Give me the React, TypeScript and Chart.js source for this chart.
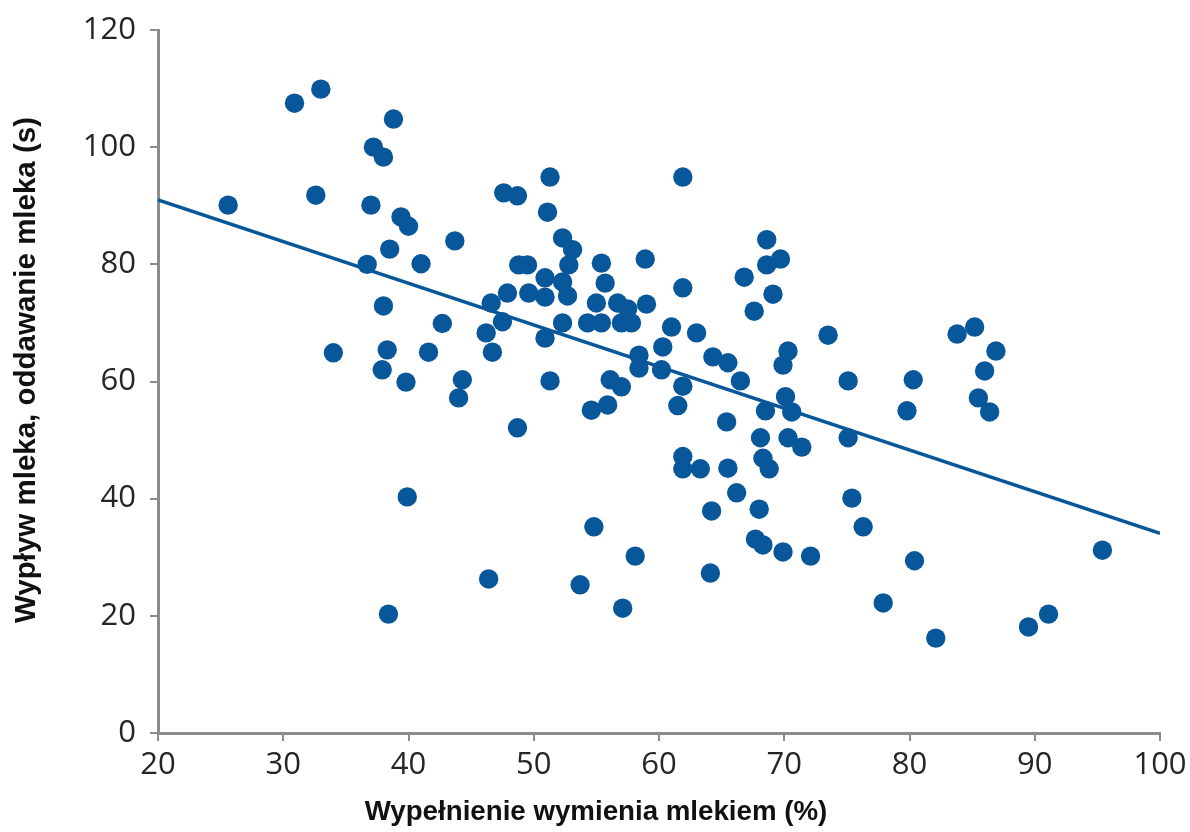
import { useEffect, useRef } from "react";
import { Chart, registerables } from "chart.js";

Chart.register(...registerables);

// Udder fill level (%) for each milking
const fillPct = [
  25.6, 30.9, 33.0, 32.6, 34.0, 37.2, 38.0, 38.8, 37.0, 36.7,
  39.4, 40.0, 38.5, 38.0, 38.3, 37.9, 39.8, 39.9, 38.4, 41.0,
  43.7, 42.7, 41.6, 44.3, 44.0,
  47.6, 48.7, 51.3, 51.1, 52.3, 53.1, 52.8, 48.8, 49.5, 55.4,
  58.9, 46.6, 47.9, 49.6, 50.9, 50.9, 52.3, 52.7, 55.7, 55.0,
  56.7, 57.5, 59.0, 47.5, 46.2, 46.7, 50.9, 52.3, 54.3, 55.4,
  57.0, 57.8, 58.4, 58.4, 51.3, 56.1, 57.0, 55.9, 54.6, 48.7,
  54.8, 58.1, 46.4, 53.7, 57.1,
  61.9, 61.9, 61.0, 63.0, 60.3, 60.2, 61.9, 61.5, 68.6, 68.6,
  69.7, 66.8, 69.1, 67.6, 64.3, 65.5, 66.5, 70.3, 69.9, 73.5,
  75.1, 65.4, 68.5, 70.1, 70.6, 68.1, 70.3, 71.4, 75.1, 61.9,
  61.9, 63.3, 65.5, 68.3, 68.8, 66.2, 64.2, 68.0, 67.7, 68.3,
  69.9, 72.1, 75.4, 76.3, 64.1, 77.9,
  80.4, 83.8, 85.2, 86.9, 86.0, 80.3, 79.8, 85.5, 86.4, 95.4,
  82.1, 89.5, 91.1,
];

// Milk flow / let-down time (s) for each milking
const flowTime = [
  90.1, 107.5, 109.9, 91.8, 64.9, 100.0, 98.3, 104.8, 90.1, 80.0,
  88.1, 86.5, 82.6, 72.9, 65.4, 62.0, 59.9, 40.3, 20.3, 80.1,
  84.0, 69.9, 65.0, 60.3, 57.2,
  92.2, 91.7, 94.9, 88.9, 84.5, 82.5, 79.9, 79.9, 79.9, 80.2,
  80.9, 73.4, 75.1, 75.1, 77.7, 74.4, 77.0, 74.6, 76.8, 73.4,
  73.4, 72.4, 73.2, 70.2, 68.3, 65.0, 67.4, 70.0, 70.0, 70.0,
  70.0, 70.0, 64.5, 62.3, 60.1, 60.3, 59.1, 56.0, 55.1, 52.1,
  35.2, 30.2, 26.3, 25.3, 21.3,
  94.9, 76.0, 69.3, 68.3, 65.9, 62.0, 59.2, 55.9, 84.2, 79.9,
  80.9, 77.8, 74.9, 72.0, 64.2, 63.2, 60.1, 65.2, 62.8, 67.9,
  60.1, 53.1, 55.0, 57.4, 54.8, 50.4, 50.4, 48.8, 50.4, 47.2,
  45.1, 45.1, 45.2, 46.9, 45.1, 41.0, 37.9, 38.2, 33.1, 32.1,
  30.9, 30.2, 40.1, 35.2, 27.3, 22.2,
  29.4, 68.1, 69.3, 65.2, 61.8, 60.3, 55.0, 57.2, 54.8, 31.2,
  16.2, 18.1, 20.3,
];

// Linear trend line end points
const trendX = [20, 100];
const trendY = [91.0, 34.1];

const xTitle = "Wypełnienie wymienia mlekiem (%)";
const yTitle = "Wypływ mleka, oddawanie mleka (s)";

const BLUE = "#08579a";
const AXIS = "#8c8c8c";
const TICK_FONT = { family: "'Open Sans', sans-serif", size: 31 };

const axisTitles = {
  id: "axisTitles",
  afterDraw(chart: any) {
    const { ctx, chartArea } = chart;
    ctx.save();
    ctx.fillStyle = "#111";
    ctx.textAlign = "center";
    ctx.textBaseline = "middle";
    ctx.font = "bold 27.7px 'Liberation Sans', Arial, sans-serif";
    ctx.fillText(xTitle, chartArea.left + 438, chartArea.bottom + 79);
    ctx.font = "bold 29.5px 'Liberation Sans', Arial, sans-serif";
    ctx.translate(27, chartArea.top + 340);
    ctx.rotate(-Math.PI / 2);
    ctx.fillText(yTitle, 0, 0);
    ctx.restore();
  },
};

// Fixed axis box sizes so the plot area sits at a known place
const fitX = (s: any) => {
  s.height = 99;
  s.paddingLeft = 0;
  s.paddingRight = 0;
};
const fitY = (s: any) => {
  s.width = 158;
  s.paddingTop = 0;
  s.paddingBottom = 0;
};

export default function App() {
  const canvasRef = useRef<HTMLCanvasElement>(null);

  useEffect(() => {
    const points = fillPct.map((x, i) => ({ x, y: flowTime[i] }));
    const trend = trendX.map((x, i) => ({ x, y: trendY[i] }));

    const chart = new Chart(canvasRef.current!, {
      type: "scatter",
      data: {
        datasets: [
          {
            data: points,
            pointRadius: 9.7,
            pointBackgroundColor: BLUE,
            pointBorderWidth: 0,
            order: 0,
          },
          {
            data: trend,
            showLine: true,
            borderColor: BLUE,
            borderWidth: 3.5,
            pointRadius: 0,
            order: 1,
          } as any,
        ],
      },
      options: {
        animation: false,
        responsive: true,
        maintainAspectRatio: false,
        layout: { padding: { top: 30, right: 30, left: 0, bottom: 0 } },
        plugins: {
          legend: { display: false },
          tooltip: { enabled: false },
        },
        scales: {
          x: {
            type: "linear",
            min: 20,
            max: 100,
            afterFit: fitX,
            ticks: { stepSize: 10, font: TICK_FONT, color: "#262626", padding: 6 },
            grid: {
              drawOnChartArea: false,
              drawTicks: true,
              tickLength: 8,
              color: AXIS,
              lineWidth: 2,
            },
            border: { display: true, color: AXIS, width: 3 },
          },
          y: {
            type: "linear",
            min: 0,
            max: 120,
            afterFit: fitY,
            ticks: { stepSize: 20, font: TICK_FONT, color: "#262626", padding: 14 },
            grid: {
              drawOnChartArea: false,
              drawTicks: true,
              tickLength: 8,
              color: AXIS,
              lineWidth: 2,
            },
            border: { display: true, color: AXIS, width: 3 },
          },
        },
      },
      plugins: [axisTitles],
    });
    return () => chart.destroy();
  }, []);

  return (
    <div style={{ position: "absolute", left: 0, top: 0, width: 1190, height: 832, background: "#fff" }}>
      <canvas ref={canvasRef} />
    </div>
  );
}
